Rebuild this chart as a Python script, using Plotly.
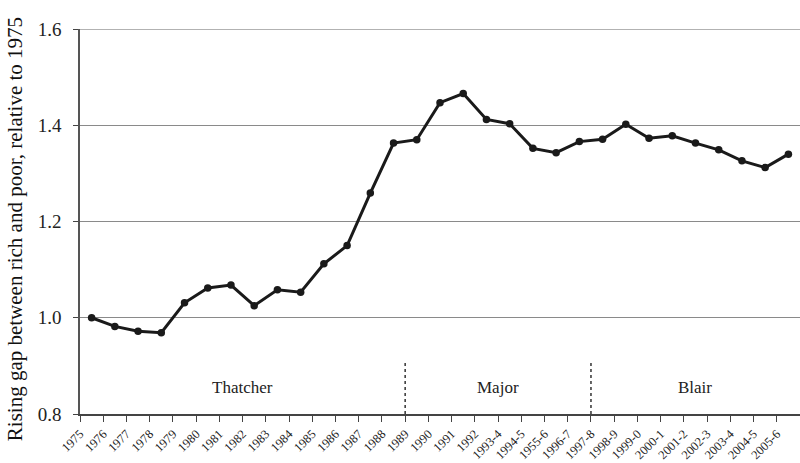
import plotly.graph_objects as go

labels = ["1975", "1976", "1977", "1978", "1979", "1980", "1981", "1982", "1983",
          "1984", "1985", "1986", "1987", "1988", "1989", "1990", "1991", "1992",
          "1993-4", "1994-5", "1955-6", "1996-7", "1997-8", "1998-9", "1999-0",
          "2000-1", "2001-2", "2002-3", "2003-4", "2004-5", "2005-6"]
values = [1.000, 0.982, 0.972, 0.969, 1.031, 1.062, 1.068, 1.025, 1.058,
          1.053, 1.112, 1.150, 1.259, 1.363, 1.370, 1.447, 1.466, 1.412,
          1.403, 1.352, 1.343, 1.366, 1.371, 1.402, 1.373,
          1.378, 1.363, 1.349, 1.326, 1.312, 1.340]
y_ticks = [0.8, 1.0, 1.2, 1.4, 1.6]
eras = ["Thatcher", "Major", "Blair"]
era_bounds = [0, 14, 22, 31]
y_title = "Rising gap between rich and poor, relative to 1975"

FONT = "Liberation Serif"
n = len(labels)
xs = [i + 0.5 for i in range(n)]

fig = go.Figure()
fig.add_trace(go.Scatter(
    x=xs, y=values, mode="lines+markers",
    line=dict(color="#1a1a1a", width=3),
    marker=dict(color="#1a1a1a", size=7.5),
    showlegend=False, hoverinfo="skip"))

# top border gridline at the maximum tick
fig.add_shape(type="line", xref="paper", yref="y", x0=0, x1=1,
              y0=y_ticks[-1], y1=y_ticks[-1], line=dict(color="#666", width=1.2),
              layer="below")

# dashed dividers between eras
for b in era_bounds[1:-1]:
    fig.add_shape(type="line", xref="x", yref="y", x0=b, x1=b, y0=0.8, y1=0.91,
                  line=dict(color="#333", width=1.5, dash="3px,3px"))

for name, a, b in zip(eras, era_bounds[:-1], era_bounds[1:]):
    fig.add_annotation(x=(a + b) / 2, y=0.856, text=name, showarrow=False,
                       font=dict(family=FONT, size=17, color="#222"),
                       xanchor="center", yanchor="middle")

fig.add_annotation(xref="paper", yref="paper", x=0, y=0.48, xshift=-65,
                   text=y_title, textangle=-90, showarrow=False,
                   font=dict(family=FONT, size=21, color="#111"),
                   xanchor="center", yanchor="middle")

fig.update_xaxes(range=[0, n], tickmode="array", tickvals=list(range(n)),
                 ticktext=labels, tickangle=-45, ticks="outside", ticklen=6,
                 tickcolor="#444", showline=True, linecolor="#444", linewidth=1.5,
                 showgrid=False, zeroline=False, automargin=False,
                 tickfont=dict(family=FONT, size=12.5, color="#222"))
fig.update_yaxes(range=[0.8, 1.6], tickmode="array", tickvals=y_ticks,
                 ticktext=[f"{v:.1f}" for v in y_ticks], ticks="outside", ticklen=5,
                 tickcolor="#444", showline=True, linecolor="#555", linewidth=1.5,
                 showgrid=True, gridcolor="#8a8a8a", gridwidth=1, zeroline=False,
                 automargin=False, ticklabelstandoff=8,
                 tickfont=dict(family=FONT, size=19, color="#222"))

fig.update_layout(width=800, height=463, margin=dict(l=80, r=0, t=29, b=49),
                  plot_bgcolor="white", paper_bgcolor="white")
fig.write_html("out.html", config={"displayModeBar": False},
               post_script="document.body.style.margin='0';document.body.style.overflow='hidden';")
